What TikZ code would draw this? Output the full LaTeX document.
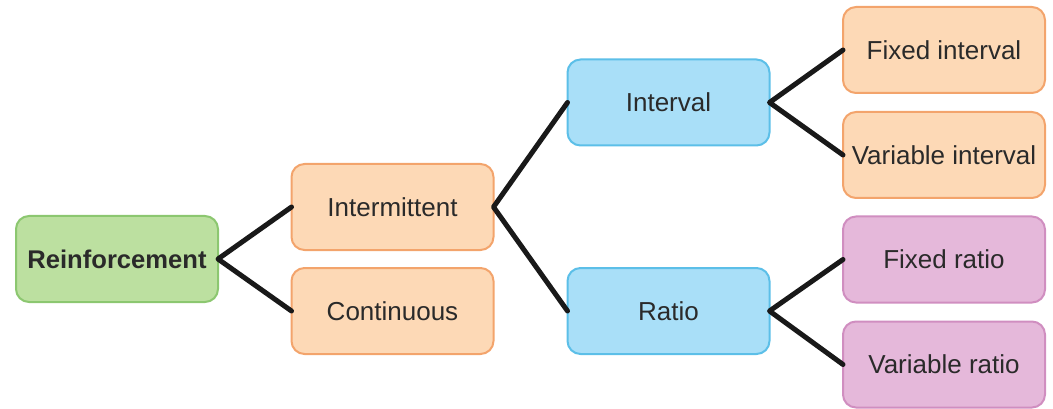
\documentclass[tikz,border=0pt]{standalone}
\usepackage{fontspec}
\setmainfont{Liberation Sans}
\definecolor{gfill}{HTML}{BCE0A0}
\definecolor{gdraw}{HTML}{8CC770}
\definecolor{ofill}{HTML}{FDD9B6}
\definecolor{odraw}{HTML}{F3A46C}
\definecolor{bfill}{HTML}{A9DFF8}
\definecolor{bdraw}{HTML}{5CBFE8}
\definecolor{pfill}{HTML}{E5B8DA}
\definecolor{pdraw}{HTML}{D08EC0}
\definecolor{txt}{HTML}{2A2A2A}
\begin{document}
\begin{tikzpicture}[x=1pt,y=-1pt,
  box/.style={rounded corners=13pt, line width=2pt, minimum width=202pt, minimum height=86pt,
    inner sep=0pt, outer sep=0pt, text=txt, font=\fontsize{26}{30}\selectfont},
  gbox/.style={box, fill=gfill, draw=gdraw},
  obox/.style={box, fill=ofill, draw=odraw},
  bbox/.style={box, fill=bfill, draw=bdraw},
  pbox/.style={box, fill=pfill, draw=pdraw},
  link/.style={line width=5pt, line cap=round, line join=round, draw=black!90}]
\useasboundingbox (0,0) rectangle (1053,409);
\node[gbox, font=\fontsize{25.6}{30}\selectfont\bfseries] (rein) at (117,259) {Reinforcement};
\node[obox] (inter) at (392.5,207) {Intermittent};
\node[obox] (cont) at (392.5,311) {Continuous};
\node[bbox] (ival) at (668.5,102.5) {Interval};
\node[bbox] (ratio) at (668.5,311) {Ratio};
\node[obox] (fi) at (944,50) {Fixed interval};
\node[obox] (vi) at (944,155) {Variable interval};
\node[pbox] (fr) at (944,259.5) {Fixed ratio};
\node[pbox] (vr) at (944,364.5) {Variable ratio};
\draw[link] (inter.west) -- (rein.east) -- (cont.west);
\draw[link] (ival.west) -- (inter.east) -- (ratio.west);
\draw[link] (fi.west) -- (ival.east) -- (vi.west);
\draw[link] (fr.west) -- (ratio.east) -- (vr.west);
\end{tikzpicture}
\end{document}
